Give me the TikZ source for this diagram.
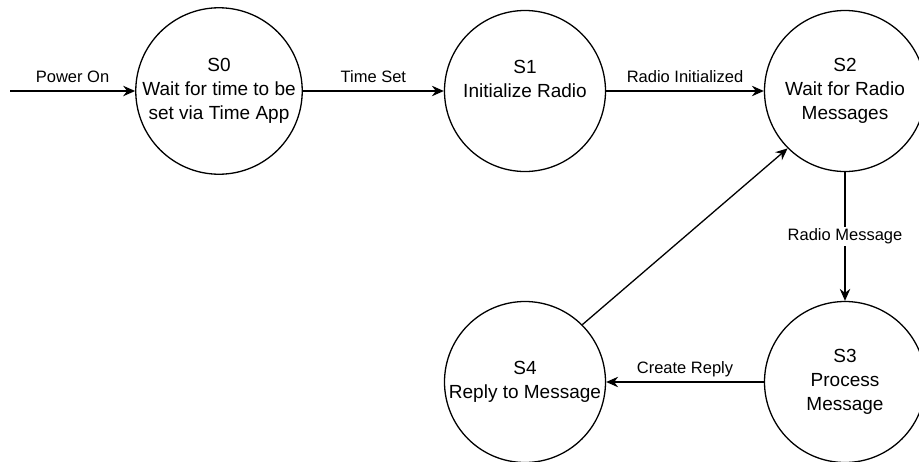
\documentclass[tikz,border=0pt]{standalone}
\usepackage{fontspec}
\setmainfont{Liberation Sans}
\usetikzlibrary{arrows.meta}
\begin{document}
\begin{tikzpicture}[x=1pt,y=-1pt,
  state/.style={circle, draw, line width=1.3pt, minimum size=161pt, inner sep=0pt,
    align=center, font=\fontsize{19}{24}\selectfont},
  trans/.style={line width=1.3pt, -{Stealth[length=12pt,width=10.5pt,inset=4pt]}},
  lbl/.style={font=\fontsize{16.5}{20}\selectfont, anchor=base, yshift=9pt, inner sep=0pt},
  onlbl/.style={font=\fontsize{16.5}{20}\selectfont, fill=white, inner sep=1.5pt}]
  \useasboundingbox (0,0) rectangle (919,461);

  % states
  \node[state] (s0) at (219,91)  {S0\\Wait for time to be\\set via Time App};
  \node[state] (s1) at (525,91)  {S1\\Initialize Radio\\\mbox{}};
  \node[state] (s2) at (845,91)  {S2\\Wait for Radio\\Messages};
  \node[state] (s3) at (845,382) {S3\\Process\\Message};
  \node[state] (s4) at (525,382) {S4\\Reply to Message};

  % entry point
  \coordinate (start) at (10,91);

  % transitions
  \draw[trans] (start) -- node[lbl] {Power On} (s0);
  \draw[trans] (s0) -- node[lbl] {Time Set} (s1);
  \draw[trans] (s1) -- node[lbl] {Radio Initialized} (s2);
  \draw[trans] (s2) -- node[onlbl] {Radio Message} (s3);
  \draw[trans] (s3) -- node[lbl] {Create Reply} (s4);
  \draw[trans] (s4.45) -- (s2.225);
\end{tikzpicture}
\end{document}
